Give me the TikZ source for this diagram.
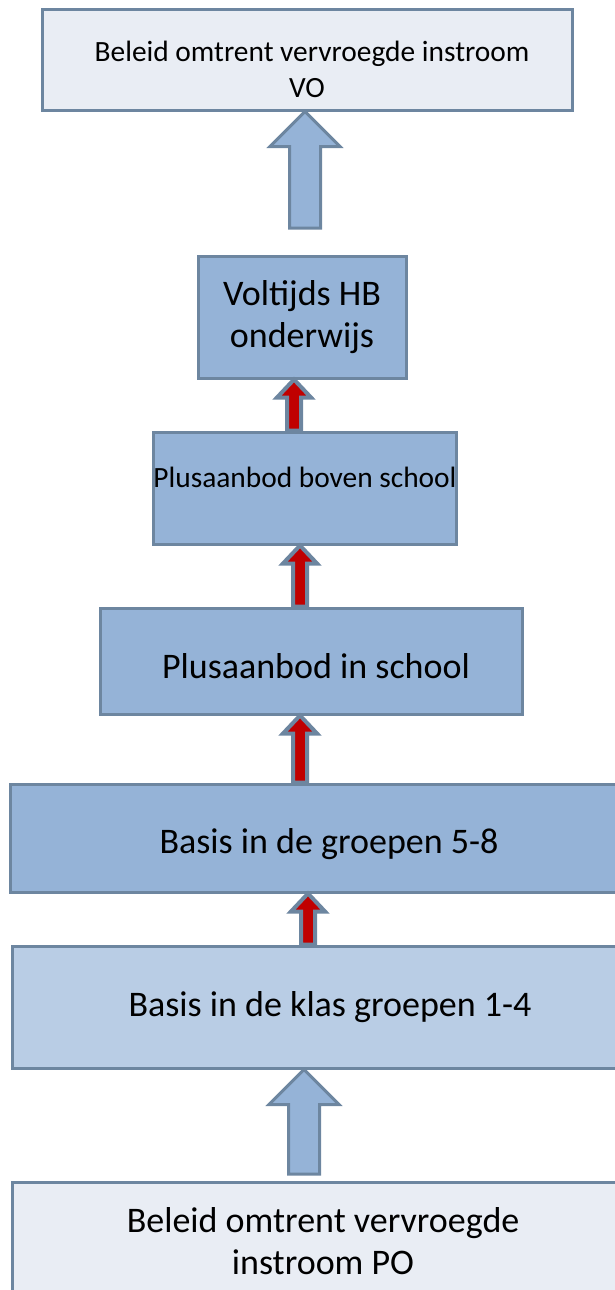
\documentclass[tikz,border=0pt]{standalone}
\usepackage{fontspec}
\setmainfont{Carlito}
\usetikzlibrary{calc,positioning}

\definecolor{boxline}{HTML}{6D86A0}
\definecolor{palebox}{HTML}{E9EDF4}
\definecolor{midbox}{HTML}{95B3D7}
\definecolor{lightbox}{HTML}{B9CDE5}
\definecolor{arrowred}{HTML}{C00000}

% block arrow: style, x, tail, tip, shaft half, head half, head length
\newcommand{\blockarr}[7]{%
  \draw[#1] let \p1=(#3), \p2=(#4) in
    (#2pt-#5pt,\y1) -- (#2pt-#5pt,\y2-#7pt) -- (#2pt-#6pt,\y2-#7pt) -- (#2pt,\y2)
    -- (#2pt+#6pt,\y2-#7pt) -- (#2pt+#5pt,\y2-#7pt) -- (#2pt+#5pt,\y1) -- cycle;}
% move a line of text up or down without changing the box
\newcommand{\tshift}[2]{\raisebox{#1}[\height][\depth]{#2}}

\tikzset{
  blok/.style={draw=boxline, line width=3pt, align=center, inner sep=0pt},
  bigtxt/.style={font=\fontsize{36}{42}\selectfont},
  smalltxt/.style={font=\fontsize{29.4}{36}\selectfont},
  bigarrow/.style={draw=boxline, fill=midbox, line width=3pt},
  redarrow/.style={draw=boxline, fill=arrowred, line width=4pt},
}

\begin{document}
\begin{tikzpicture}[x=1pt,y=-1pt]
  \useasboundingbox (0,0) rectangle (615,1290);
  % the boxes, top to bottom
  \node[blok, smalltxt, fill=palebox, minimum width=530, minimum height=100] (vo) at (307,60)
    {\tshift{-9pt}{\hspace{10pt}Beleid omtrent vervroegde instroom}\\\tshift{-9pt}{VO}};
  \node[blok, bigtxt, fill=midbox, minimum width=208, minimum height=122] (hb) at (302,317)
    {Voltijds HB\\onderwijs};
  \node[blok, smalltxt, fill=midbox, minimum width=302, minimum height=112] (boven) at (305,488)
    {\tshift{11pt}{Plusaanbod boven school}};
  \node[blok, bigtxt, fill=midbox, minimum width=422, minimum height=106] (inschool) at (311,661)
    {\tshift{-5pt}{\hspace{10pt}Plusaanbod in school}};
  \node[blok, bigtxt, fill=midbox, minimum width=638, minimum height=108] (gr58) at (329,838)
    {\tshift{-6pt}{Basis in de groepen 5-8}};
  \node[blok, bigtxt, fill=lightbox, minimum width=636, minimum height=122] (gr14) at (330,1007)
    {Basis in de klas groepen 1-4};
  \node[blok, bigtxt, fill=palebox, minimum width=622, minimum height=118] (po) at (323,1241)
    {Beleid omtrent vervroegde\\instroom PO};
  % free ends of the big arrows
  \coordinate (votail) at (305,228);
  \coordinate (potail) at (304,1174);
  % arrows
  \blockarr{bigarrow}{305}{votail}{vo.south}{15.5}{35}{35}
  \blockarr{redarrow}{294}{boven.north}{hb.south}{7}{17}{18}
  \blockarr{redarrow}{300}{inschool.north}{boven.south}{7}{17}{18}
  \blockarr{redarrow}{300}{gr58.north}{inschool.south}{7}{17}{18}
  \blockarr{redarrow}{308}{gr14.north}{gr58.south}{7}{17}{18}
  \blockarr{bigarrow}{304}{potail}{gr14.south}{15.5}{35}{35}
\end{tikzpicture}
\end{document}
